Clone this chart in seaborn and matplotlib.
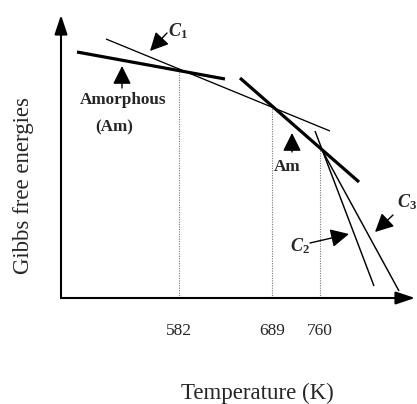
import matplotlib
matplotlib.use("Agg")
import matplotlib.pyplot as plt
import seaborn as sns
import pandas as pd

# ---- data (schematic coordinates: x = temperature axis position, y = free energy) ----
tick_pos = [118, 211, 259]
tick_labels = ["582", "689", "760"]

seg_names = ["Am1", "C1", "Am2", "C2", "C3"]
seg_x0 = [16, 45, 179, 254, 261]
seg_y0 = [246, 259, 220, 167, 148]
seg_x1 = [164, 269, 298, 313, 338]
seg_y1 = [219, 167, 116, 12, 7]
seg_lw = [2.3, 0.95, 2.3, 1.05, 1.05]

vline_top = [228, 193, 148]

ann_text = [r"$C_1$", "", "", r"$C_3$", r"$C_2$"]
ann_tail = [(106, 265), (61, 210), (231, 146), (332, 83), (249, 55)]
ann_tip = [(89, 247), (61, 232), (231, 165), (314, 66), (288, 64)]
ann_txt_pos = [(117, 267), None, None, (346, 96), (239, 52)]

label_text = ["Amorphous", "(Am)", "Am"]
label_pos = [(62, 198), (53, 171), (226, 131)]

xlim = (0, 354)
ylim = (0, 283)

# ---- styling ----
sns.set_theme(style="white")
plt.rcParams["font.family"] = ["Liberation Serif", "DejaVu Serif"]
plt.rcParams["mathtext.fontset"] = "custom"
plt.rcParams["mathtext.it"] = "Liberation Serif:italic:bold"
plt.rcParams["mathtext.rm"] = "Liberation Serif:bold"

fig = plt.figure(figsize=(4.17, 4.04), dpi=100)
ax = fig.add_axes([61 / 417, (404 - 298) / 404, 354 / 417, 283 / 404])
ax.set_xlim(*xlim)
ax.set_ylim(*ylim)
for s in ax.spines.values():
    s.set_visible(False)
ax.patch.set_alpha(0)

# axes with arrows
arrow_axis = dict(arrowstyle="-|>,head_length=0.9,head_width=0.3", color="black",
                  lw=1.5, shrinkA=0, shrinkB=0, mutation_scale=13)
ax.annotate("", xy=(1, 0), xytext=(0, 0), xycoords="axes fraction",
            textcoords="axes fraction", arrowprops=arrow_axis, annotation_clip=False)
ax.annotate("", xy=(0, 1), xytext=(0, 0), xycoords="axes fraction",
            textcoords="axes fraction", arrowprops=arrow_axis, annotation_clip=False)

# dotted vertical guides
for xp, yt in zip(tick_pos, vline_top):
    ax.plot([xp, xp], [0, yt], linestyle=(0, (1, 1.2)), color="#777777", lw=0.8, zorder=1)

# tangent lines
for n, x0, y0, x1, y1, lw in zip(seg_names, seg_x0, seg_y0, seg_x1, seg_y1, seg_lw):
    df = pd.DataFrame({"x": [x0, x1], "y": [y0, y1]})
    sns.lineplot(data=df, x="x", y="y", color="black", linewidth=lw, ax=ax,
                 solid_capstyle="butt", zorder=3)

# annotation arrows
arrow_ann = dict(arrowstyle="-|>,head_length=0.8,head_width=0.4", color="black",
                 lw=1.0, shrinkA=0, shrinkB=0, mutation_scale=14)
for t, tail, tip, tp in zip(ann_text, ann_tail, ann_tip, ann_txt_pos):
    ax.annotate("", xy=tip, xytext=tail, arrowprops=arrow_ann)
    if tp is not None:
        ax.text(tp[0], tp[1], t, fontsize=13, ha="center", va="center")

for t, p in zip(label_text, label_pos):
    ax.text(p[0], p[1], t, fontsize=12.3, fontweight="bold", ha="center", va="center")

ax.set_xticks(tick_pos)
ax.set_xticklabels(tick_labels, fontsize=12.5)
ax.set_yticks([])
ax.tick_params(axis="x", length=0, pad=18)

ax.set_xlabel("Temperature (K)", fontsize=16.5)
ax.xaxis.label.set_va("center")
ax.xaxis.set_label_coords((257 - 61) / 354, (298 - 393) / 283)
ax.set_ylabel("Gibbs free energies", fontsize=16.5)
ax.yaxis.label.set_va("center")
ax.yaxis.set_label_coords((24 - 61) / 354, (298 - 186) / 283)

fig.savefig("out.png", dpi=100)
